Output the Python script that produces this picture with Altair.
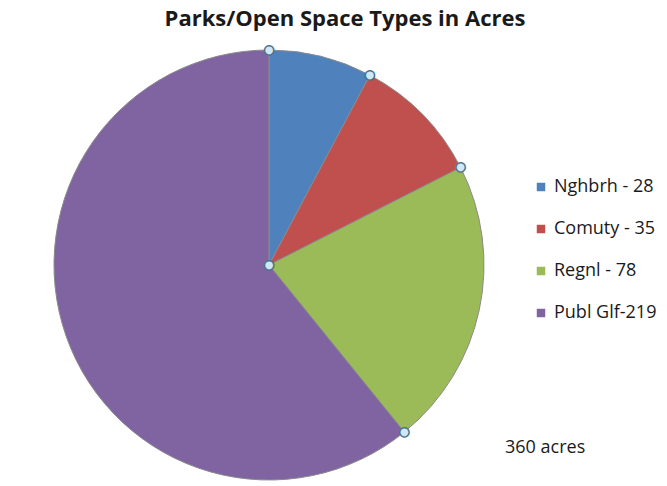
import altair as alt
import pandas as pd

# ---- data ----
categories = ["Nghbrh - 28", "Comuty - 35", "Regnl - 78", "Publ Glf-219"]
acres = [28, 35, 78, 219]
colors = ["#4F81BD", "#C0504D", "#9BBB59", "#8064A2"]
title_text = "Parks/Open Space Types in Acres"
note_text = "360 acres"

df = pd.DataFrame({"cat": categories, "acres": acres, "order": list(range(len(acres)))})
total = sum(acres)

# boundary handles (selection markers) at slice starts
cum = [0]
for v in acres[:-1]:
    cum.append(cum[-1] + v)
handles = pd.DataFrame({"cum": cum})
center = pd.DataFrame({"cum": [0]})

CX, CY, R = 261, 256, 215
W, H = 650, 468
FONT = "Open Sans"

theta_scale = alt.Scale(domain=[0, total])

pie = alt.Chart(df).mark_arc(outerRadius=R, stroke="#8a8a8a", strokeWidth=1).encode(
    theta=alt.Theta("acres:Q", stack=True, scale=theta_scale),
    color=alt.Color(
        "cat:N",
        scale=alt.Scale(domain=categories, range=colors),
        sort=categories,
        legend=alt.Legend(
            title=None,
            orient="none",
            legendX=524,
            legendY=169,
            symbolType="square",
            symbolSize=72,
            symbolStrokeWidth=0,
            labelFont=FONT,
            labelFontSize=18,
            labelColor="#1a1a1a",
            labelLimit=200,
            rowPadding=24,
            labelOffset=4,
        ),
    ),
    order=alt.Order("order:Q"),
    x=alt.value(CX),
    y=alt.value(CY),
)

def handle_layer(data, radius):
    outer = alt.Chart(data).mark_text(
        text="●", font="DejaVu Sans", fontSize=14, color="#4d7089", baseline="middle", align="center"
    ).encode(
        theta=alt.Theta("cum:Q", stack=None, scale=theta_scale),
        radius=alt.value(radius),
        x=alt.value(CX),
        y=alt.value(CY),
    )
    inner = alt.Chart(data).mark_text(
        text="●", font="DejaVu Sans", fontSize=10, color="#cfe8f6", baseline="middle", align="center"
    ).encode(
        theta=alt.Theta("cum:Q", stack=None, scale=theta_scale),
        radius=alt.value(radius),
        x=alt.value(CX),
        y=alt.value(CY),
    )
    return outer + inner

title = alt.Chart(pd.DataFrame({"t": [title_text]})).mark_text(
    font=FONT, fontSize=22, fontWeight="bold", color="#1a1a1a", align="center", baseline="alphabetic"
).encode(text="t:N", x=alt.value(337), y=alt.value(17))

note = alt.Chart(pd.DataFrame({"t": [note_text]})).mark_text(
    font=FONT, fontSize=18, color="#1a1a1a", align="left", baseline="alphabetic"
).encode(text="t:N", x=alt.value(497), y=alt.value(444))

chart = alt.layer(
    pie, handle_layer(handles, R), handle_layer(center, 0), title, note
).properties(width=W, height=H, padding=0).configure(
    background="white",
    view=alt.ViewConfig(stroke="transparent", strokeWidth=0),
)

chart.save("out.html", embed_options={"renderer": "svg", "actions": False})
